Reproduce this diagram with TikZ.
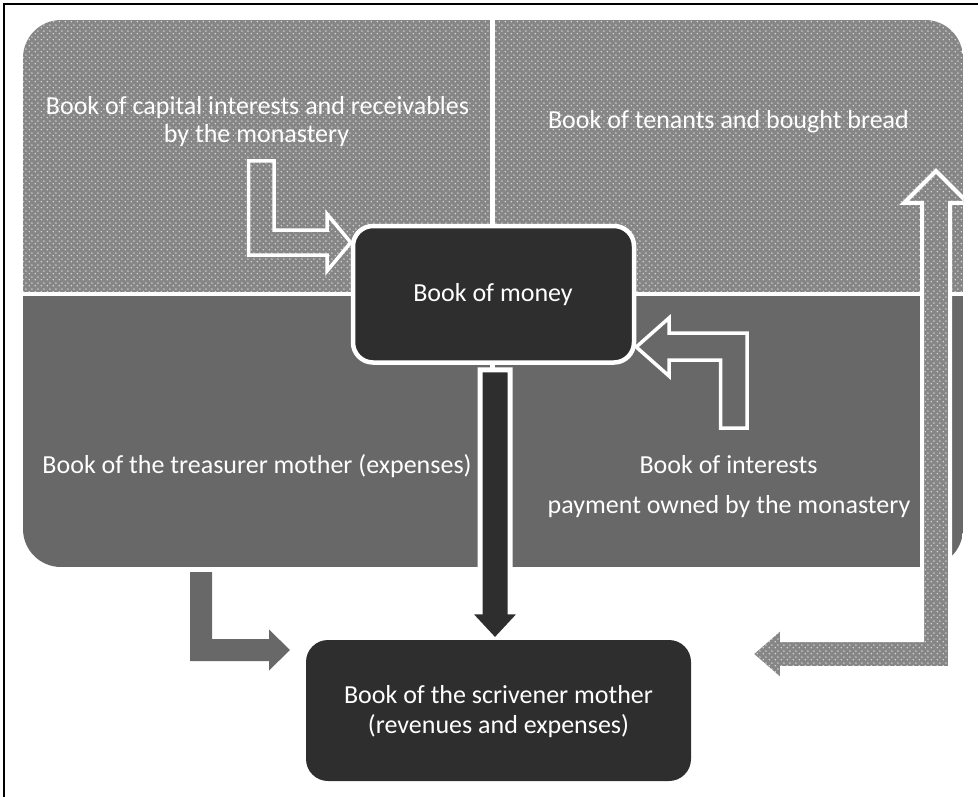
\documentclass[tikz,border=0pt]{standalone}
\usepackage{fontspec}
\setmainfont{Carlito}
\usetikzlibrary{patterns,calc}

% fine light dots laid over a mid-gray ground
\pgfdeclarepatternformonly{finedots}{\pgfqpoint{0pt}{0pt}}{\pgfqpoint{5.6pt}{5.6pt}}{\pgfqpoint{5.6pt}{5.6pt}}{%
  \pgfpathcircle{\pgfqpoint{1.4pt}{1.4pt}}{0.85pt}%
  \pgfpathcircle{\pgfqpoint{4.2pt}{4.2pt}}{0.85pt}%
  \pgfusepath{fill}}

\definecolor{dotbase}{RGB}{134,134,134}
\definecolor{dotlight}{RGB}{222,222,222}
\definecolor{lowgray}{RGB}{104,104,104}
\definecolor{boxdark}{RGB}{46,46,46}

\pgfdeclarelayer{quads}
\pgfdeclarelayer{arrows}
\pgfsetlayers{quads,arrows,main}

\tikzset{
  dotarea/.style={preaction={fill=dotbase}, pattern=finedots, pattern color=dotlight},
  booktext/.style={text=white, font=\fontsize{26}{28}\selectfont, inner sep=0pt, anchor=base},
  hollowarrow/.style={draw=white, line width=3.5pt},
  darkarrow/.style={fill=boxdark, draw=white, line width=5pt},
  grayarrow/.style={fill=lowgray},
  darkbox/.style={rectangle, fill=boxdark, inner sep=0pt},
}

\begin{document}
\begin{tikzpicture}[x=1pt, y=-1pt, line join=miter]
\useasboundingbox (0,0) rectangle (978,797);

% frame on the top and left
\draw[line width=2.5pt] (4.2,797) -- (4.2,4.2) -- (978,4.2);

% four quadrants inside one rounded outline
\begin{pgfonlayer}{quads}
\begin{scope}
  \clip[rounded corners=38pt] (23,20) rectangle (963,567);
  \path[dotarea] (23,20) rectangle (490,292);
  \path[dotarea] (495,20) rectangle (963,292);
  \fill[lowgray] (23,296) rectangle (490,567);
  \fill[lowgray] (495,296) rectangle (963,567);
\end{scope}
\end{pgfonlayer}

% quadrant captions
\node[booktext] (capA) at (257.5,115) {Book of capital interests and receivables};
\node[booktext] (capB) at (256.5,143) {by the monastery};
\node[booktext] (ten)  at (728.5,129) {Book of tenants and bought bread};
\node[booktext] (tre)  at (257,473)   {Book of the treasurer mother (expenses)};
\node[booktext] (intA) at (728.5,473) {Book of interests};
\node[booktext] (intB) at (729,513)   {payment owned by the monastery};

% central boxes
\node[darkbox, draw=white, line width=4.5pt, rounded corners=20pt,
      minimum width=281pt, minimum height=136.5pt] (money) at (493.5,294.25) {};
\node[darkbox, rounded corners=22pt,
      minimum width=385pt, minimum height=141pt] (scriv) at (498.5,710.5) {};

\begin{pgfonlayer}{arrows}
% outlined L-arrows into the money book
\draw[hollowarrow] (248.5,161) -- (274,161) -- (274,230) -- (327,230) -- (327,214)
  -- (money.west |- 0,242.5) -- (327,271) -- (327,255) -- (248.5,255) -- cycle;
\draw[hollowarrow] (money.east |- 0,347) -- (669,318) -- (669,333) -- (747,333) -- (747,428)
  -- (720.5,428) -- (720.5,360) -- (669,360) -- (669,376) -- cycle;

% dotted two-way arrow on the right
\begin{scope}
  \clip (0,0) rectangle (963,797);
  \path[dotarea, draw=white, line width=4pt]
    (922,203) -- (904,203) -- (936,171) -- (968,203) -- (950,203)
    -- (950,668) -- (782,668) -- (782,681) -- (751,654) -- (782,627)
    -- (782,640) -- (922,640) -- cycle;
\end{scope}

% gray L-arrow from the treasurer book
\path[grayarrow] (190,572) -- (212,572) -- (212,639) -- (269,639) -- (269,629.5)
  -- (290,650) -- (269,670.5) -- (269,661) -- (190,661) -- cycle;

% dark arrow from the money book down to the scrivener book
\coordinate (mtop) at ($(money.south)+(1.5,5)$);
\coordinate (mtip) at ($(scriv.north)+(-3.5,1)$);
\path[darkarrow] ($(mtop)+(-15,0)$) -- ++(30,0) -- ($(mtip)+(15,-29)$) -- ++(12,0)
  -- (mtip) -- ++(-27,-29) -- ++(12,0) -- cycle;
\end{pgfonlayer}

% box captions
\node[booktext] (moneyT) at (493,301.5) {Book of money};
\node[booktext] (scrivA) at (498.5,703) {Book of the scrivener mother};
\node[booktext] (scrivB) at (498.5,733) {(revenues and expenses)};
\end{tikzpicture}
\end{document}
